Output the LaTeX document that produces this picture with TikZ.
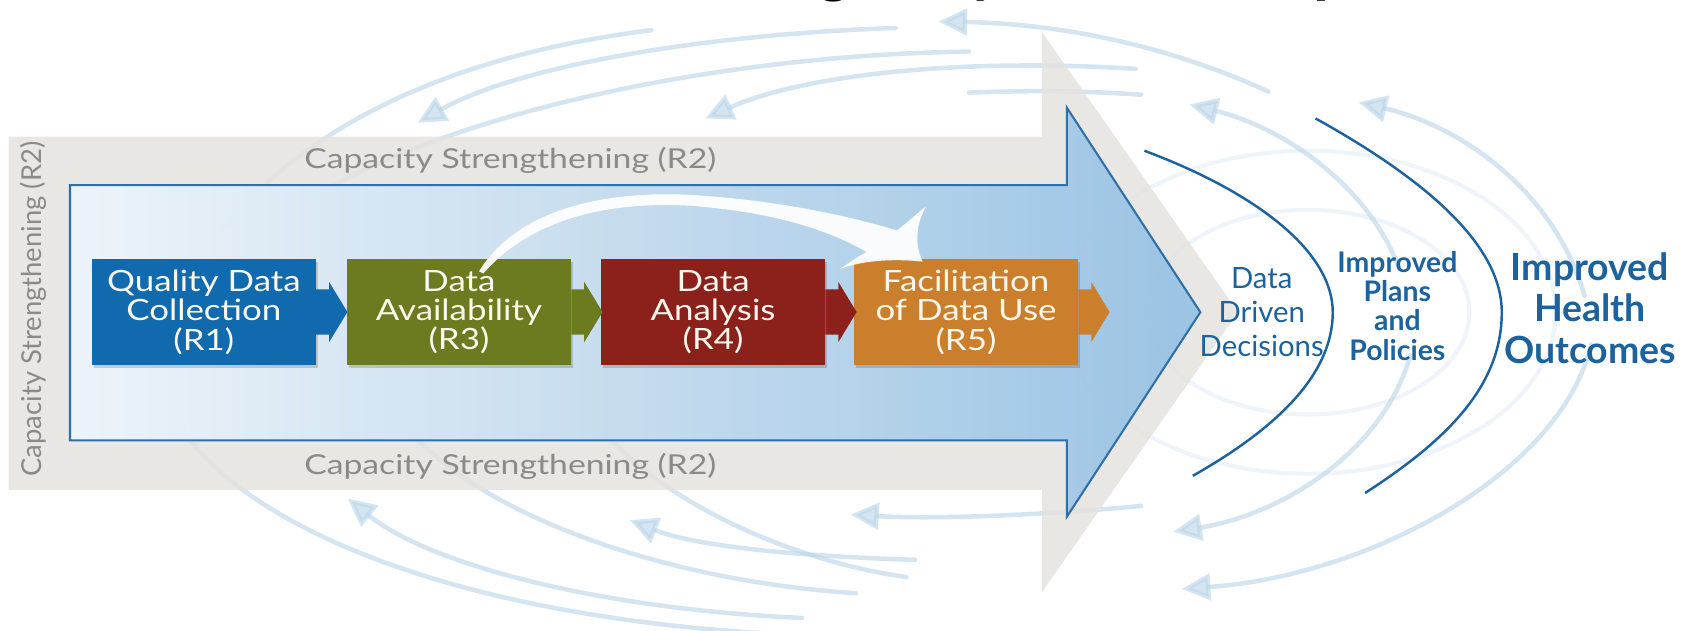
\documentclass[tikz,border=0pt]{standalone}
\usepackage{fontspec}
\setmainfont{Lato}
\usetikzlibrary{arrows.meta,calc}

\definecolor{bandgray}{RGB}{228,227,223}
\definecolor{capgray}{RGB}{138,138,136}
\definecolor{swirl}{RGB}{186,213,233}
\definecolor{navy}{RGB}{28,98,158}
\definecolor{edgeblue}{RGB}{48,112,168}
\definecolor{lightfill}{RGB}{238,245,251}
\definecolor{deepfill}{RGB}{150,193,228}
\definecolor{rone}{RGB}{18,106,174}
\definecolor{rthree}{RGB}{108,122,32}
\definecolor{rfour}{RGB}{140,33,27}
\definecolor{rfive}{RGB}{203,127,45}
\definecolor{boxtext}{RGB}{250,247,236}

\begin{document}
\begin{tikzpicture}[x=0.02cm,y=-0.02cm,
  swirlline/.style={draw=swirl, line width=2.4pt, line cap=round, opacity=0.62},
  swirlarrow/.style={swirlline, -{Triangle[length=15pt,width=14pt]}},
  faintring/.style={draw=swirl, line width=2.2pt, opacity=0.25},
  stepbox/.style={rectangle, minimum width=208*0.02cm, minimum height=99*0.02cm,
    inner sep=0pt, align=center, text=boxtext},
  steptext/.style={text=boxtext, align=center, inner sep=0pt, xscale=1.19,
    font=\fontsize{15.5}{15.5}\selectfont},
  captext/.style={text=capgray, font=\fontsize{14.5}{14.5}\selectfont, inner sep=0pt},
  outcome/.style={text=navy, align=center, inner sep=0pt},
  bracket/.style={draw=navy, line width=1.3pt},
  titlefrag/.style={text=black, font=\fontsize{34}{34}\bfseries\selectfont, inner sep=0pt, anchor=base}
]
\useasboundingbox (0,0) rectangle (1568,586);
\clip (0,0) rectangle (1568,586);

% descenders of the heading line, cut by the top edge
\node[titlefrag] (tg) at (775,-9) {g};
\node[titlefrag] (ty) at (916,-9) {y};
\node[titlefrag] (tp) at (1237,-9) {p};

% ---- circulating background arcs ----
\draw[faintring] (1215,290) ellipse [x radius=150, y radius=95];
\draw[faintring] (1215,290) ellipse [x radius=230, y radius=150];
% over the top, right to left
\draw[swirlarrow] (1178,85) .. controls (1080,40) and (980,22) .. (872,20);
\draw[swirlarrow] (832,26) .. controls (650,32) and (480,62) .. (388,114);
\draw[swirlline] (605,28) .. controls (430,50) and (290,110) .. (205,215);
\draw[swirlline] (900,48) .. controls (700,50) and (420,95) .. (262,200);
\draw[swirlarrow] (1055,64) .. controls (900,54) and (750,68) .. (655,110);
\draw[swirlline] (1060,88) .. controls (1000,84) and (960,84) .. (900,86);
% right side, rising
\draw[swirlarrow] (1300,250) .. controls (1270,170) and (1190,118) .. (1105,97);
\draw[swirlarrow] (1472,275) .. controls (1445,180) and (1360,118) .. (1262,95);
% right side, falling
\draw[swirlarrow] (1310,330) .. controls (1285,420) and (1190,478) .. (1090,494);
\draw[swirlarrow] (1478,320) .. controls (1450,440) and (1270,535) .. (1098,547);
% under the bottom, right to left
\draw[swirlline] (170,400) .. controls (240,500) and (450,578) .. (745,590);
\draw[swirlarrow] (745,574) .. controls (560,566) and (400,525) .. (323,463);
\draw[swirlline] (380,400) .. controls (450,480) and (620,540) .. (795,551);
\draw[swirlline] (560,400) .. controls (620,470) and (740,522) .. (842,536);
\draw[swirlarrow] (850,520) .. controls (720,516) and (640,505) .. (585,483);
\draw[swirlarrow] (1060,470) .. controls (950,480) and (860,482) .. (790,478);

% ---- grey capacity arrow ----
\fill[bandgray, fill opacity=0.86] (8,127) -- (968,127) -- (968,30) -- (1150,290)
  -- (968,550) -- (968,455) -- (8,455) -- cycle;

% ---- blue process arrow ----
\shade[left color=lightfill, right color=deepfill, fill opacity=0.93]
  (65,172) -- (991,172) -- (991,100) -- (1115,290) -- (991,480) -- (991,409) -- (65,409) -- cycle;
\draw[edgeblue, line width=1.1pt, line join=miter]
  (65,172) -- (991,172) -- (991,100) -- (1115,290) -- (991,480) -- (991,409) -- (65,409) -- cycle;

% ---- capacity labels ----
\node[captext, xscale=1.23] (captop) at (474,149) {Capacity Strengthening (R2)};
\node[captext, xscale=1.23] (capbot) at (474,433) {Capacity Strengthening (R2)};
\node[captext, rotate=90] (capside) at (31,287) {Capacity Strengthening (R2)};

% ---- process steps ----
\foreach \xx in {87,324,560,795}
  \fill[black, opacity=0.16] (\xx,243) rectangle ++(208,99);
\node[stepbox, fill=rone, anchor=north west] (r1) at (85,240) {};
\node[stepbox, fill=rthree, anchor=north west] (r3) at (322,240) {};
\node[stepbox, fill=rfour, anchor=north west] (r4) at (558,240) {};
\node[stepbox, fill=rfive, anchor=north west] (r5) at (793,240) {};
\node[steptext] (r1t) at (r1) {Quality Data\\Collection\\(R1)};
\node[steptext] (r3t) at (r3) {Data\\Availability\\(R3)};
\node[steptext] (r4t) at (r4) {Data\\Analysis\\(R4)};
\node[steptext] (r5t) at (r5) {Facilitation\\of Data Use\\(R5)};

% block arrows leaving each step
\foreach \b/\c in {r1/rone, r3/rthree, r4/rfour, r5/rfive}
  \fill[\c] ($(\b.east)+(0,-21)$) -- ++(12,0) -- ++(0,-7) -- ($(\b.east)+(29,0)$)
    -- ($(\b.east)+(12,28)$) -- ++(0,-7) -- ++(-12,0) -- cycle;

% ---- white swoosh from availability to data use ----
\coordinate (swstart) at (445,252);
\fill[white, fill opacity=0.93]
  (swstart) .. controls (480,195) and (560,177) .. (640,181)
  .. controls (730,186) and (800,204) .. (833,214)
  .. controls (845,205) and (852,198) .. (860,192)
  .. controls (850,210) and (850,228) .. (857,243)
  .. controls (830,240) and (800,242) .. (780,250)
  .. controls (790,243) and (798,238) .. (805,234)
  .. controls (770,214) and (720,197) .. (640,191)
  .. controls (560,187) and (492,205) .. (449,254) -- cycle;

% ---- outcomes ----
\node[outcome, font=\fontsize{15.5}{18}\selectfont] (ddd) at (1172,290) {Data\\Driven\\Decisions};
\node[outcome, font=\fontsize{15}{15.5}\bfseries\selectfont] (ipp) at (1298,284) {Improved\\Plans\\and\\Policies};
\node[outcome, font=\fontsize{19.8}{22}\bfseries\selectfont] (iho) at (1477,286) {Improved\\Health\\Outcomes};

\coordinate (c1top) at (1063,140);
\coordinate (c1bot) at (1108,442);
\coordinate (c2top) at (1222,110);
\coordinate (c2bot) at (1268,458);
\draw[bracket] (c1top) .. controls (1170,180) and (1238,235) .. (1238,290)
  .. controls (1238,350) and (1182,400) .. (c1bot);
\draw[bracket] (c2top) .. controls (1330,170) and (1395,230) .. (1395,290)
  .. controls (1395,360) and (1342,410) .. (c2bot);
\end{tikzpicture}
\end{document}
